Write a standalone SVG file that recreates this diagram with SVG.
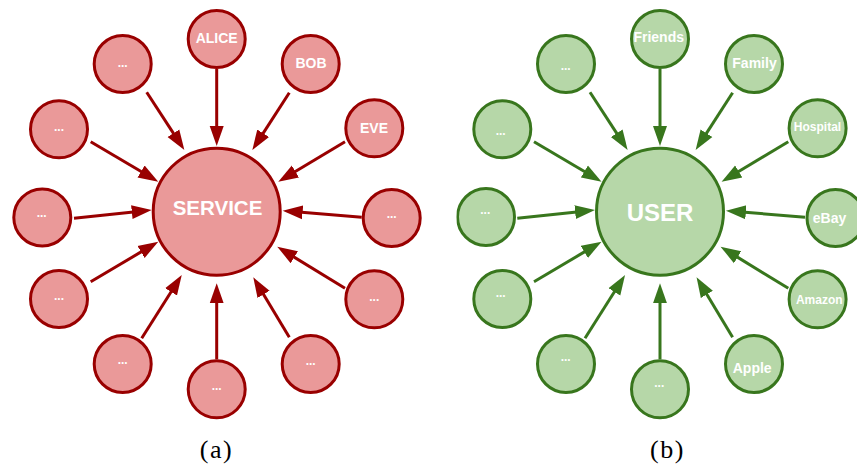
<svg xmlns="http://www.w3.org/2000/svg" width="857" height="464" viewBox="0 0 857 464">
<style>
.r circle{fill:#ea9999;stroke:#990000;stroke-width:3}
.g circle{fill:#b6d7a8;stroke:#38761d;stroke-width:3}
text{font-family:"Liberation Sans",Arial,sans-serif;font-weight:bold;fill:#ffffff;text-anchor:middle}
.s{font-size:14px}
.xs{font-size:12px}
.d{font-size:12px}
.hub-r{font-size:20.5px}
.hub-g{font-size:24px}
.lr line{stroke:#990000;stroke-width:3;marker-end:url(#ar)}
.lg line{stroke:#38761d;stroke-width:3;marker-end:url(#ag)}
.cap{font-family:"Liberation Serif","Times New Roman",serif;font-weight:normal;fill:#000;font-size:26px;letter-spacing:1.5px}
</style>
<defs>
<marker id="ar" markerUnits="userSpaceOnUse" markerWidth="22" markerHeight="16" viewBox="0 -8 22 16" refX="4" refY="0" orient="auto"><path d="M0,-7 L20,0 L0,7 z" fill="#990000"/></marker>
<marker id="ag" markerUnits="userSpaceOnUse" markerWidth="22" markerHeight="16" viewBox="0 -8 22 16" refX="4" refY="0" orient="auto"><path d="M0,-7 L20,0 L0,7 z" fill="#38761d"/></marker>
<clipPath id="clipB"><rect x="456.5" y="0" width="401" height="464"/></clipPath>
</defs>

<g id="connectors">
<g class="lr">
<line x1="216.7" y1="69" x2="216.7" y2="130"/>
<line x1="289.3" y1="92.7" x2="261" y2="136.6"/>
<line x1="345" y1="141.7" x2="292" y2="173.5"/>
<line x1="361.7" y1="217.3" x2="298.6" y2="212"/>
<line x1="345" y1="288.3" x2="290.9" y2="255.1"/>
<line x1="289.3" y1="337.3" x2="261.5" y2="291"/>
<line x1="216.7" y1="359.3" x2="216.7" y2="299.3"/>
<line x1="141.7" y1="338.3" x2="173.2" y2="288.5"/>
<line x1="90.7" y1="281.7" x2="144.5" y2="249.9"/>
<line x1="74" y1="218.3" x2="135.8" y2="211.7"/>
<line x1="90.7" y1="141.7" x2="144.5" y2="173.5"/>
<line x1="146.7" y1="92.3" x2="175.6" y2="136.6"/>
</g>
<g class="lg" transform="translate(443.3,0)">
<line x1="216.7" y1="69" x2="216.7" y2="130"/>
<line x1="289.3" y1="92.7" x2="261" y2="136.6"/>
<line x1="345" y1="141.7" x2="292" y2="173.5"/>
<line x1="361.7" y1="217.3" x2="298.6" y2="212"/>
<line x1="345" y1="288.3" x2="290.9" y2="255.1"/>
<line x1="289.3" y1="337.3" x2="261.5" y2="291"/>
<line x1="216.7" y1="359.3" x2="216.7" y2="299.3"/>
<line x1="141.7" y1="338.3" x2="173.2" y2="288.5"/>
<line x1="90.7" y1="281.7" x2="144.5" y2="249.9"/>
<line x1="74" y1="218.3" x2="135.8" y2="211.7"/>
<line x1="90.7" y1="141.7" x2="144.5" y2="173.5"/>
<line x1="146.7" y1="92.3" x2="175.6" y2="136.6"/>
</g>
</g>

<g id="panel-a" class="r">
<g id="service"><circle cx="216.7" cy="211.7" r="63.5"/><text class="hub-r" x="217.5" y="215">SERVICE</text></g>
<g id="alice"><circle cx="216.7" cy="39" r="28.5"/><text class="s" x="216.7" y="42.5">ALICE</text></g>
<g id="bob"><circle cx="310.7" cy="64" r="28.5"/><text class="s" x="311" y="68">BOB</text></g>
<g id="eve"><circle cx="374.3" cy="128.3" r="28.5"/><text class="s" x="374" y="132.7">EVE</text></g>
<g id="a-r"><circle cx="391.7" cy="218" r="28.5"/><text class="d" x="391.7" y="218">...</text></g>
<g id="a-rl"><circle cx="374.3" cy="299.3" r="28.5"/><text class="d" x="374.3" y="300.5">...</text></g>
<g id="a-lr"><circle cx="310.7" cy="364" r="28.5"/><text class="d" x="310.7" y="364.8">...</text></g>
<g id="a-b"><circle cx="216.7" cy="389.3" r="28.5"/><text class="d" x="216.7" y="389.8">...</text></g>
<g id="a-ll"><circle cx="122.7" cy="364" r="28.5"/><text class="d" x="122.7" y="364">...</text></g>
<g id="a-lwl"><circle cx="59" cy="299" r="28.5"/><text class="d" x="59" y="299.8">...</text></g>
<g id="a-fl"><circle cx="42.3" cy="217.5" r="28.5"/><text class="d" x="41.7" y="217">...</text></g>
<g id="a-l"><circle cx="59" cy="129.3" r="28.5"/><text class="d" x="59" y="130.8">...</text></g>
<g id="a-tl"><circle cx="122.7" cy="64" r="28.5"/><text class="d" x="122.7" y="66.5">...</text></g>
</g>

<g id="panel-b" class="g" clip-path="url(#clipB)">
<g id="user"><circle cx="660" cy="211.7" r="63.5"/><text class="hub-g" x="660" y="220.7">USER</text></g>
<g id="friends"><circle cx="660" cy="39" r="28.5"/><text class="s" x="658.7" y="41.7">Friends</text></g>
<g id="family"><circle cx="754" cy="64" r="28.5"/><text class="s" x="754.5" y="67.7">Family</text></g>
<g id="hospital"><circle cx="817.6" cy="128.3" r="28.5"/><text class="xs" x="817.5" y="130.7">Hospital</text></g>
<g id="ebay"><circle cx="835.5" cy="218" r="28.5"/><text class="s" x="829.5" y="223.3">eBay</text></g>
<g id="amazon"><circle cx="817.6" cy="299.3" r="28.5"/><text class="xs" x="819.3" y="304">Amazon</text></g>
<g id="apple"><circle cx="754" cy="364" r="28.5"/><text class="s" x="752.2" y="372.7">Apple</text></g>
<g id="b-b"><circle cx="660" cy="389.3" r="28.5"/><text class="d" x="659.3" y="386.5">...</text></g>
<g id="b-ll"><circle cx="566" cy="364" r="28.5"/><text class="d" x="565.7" y="361">...</text></g>
<g id="b-lwl"><circle cx="502.3" cy="299" r="28.5"/><text class="d" x="500.7" y="296.5">...</text></g>
<g id="b-fl"><circle cx="486" cy="217" r="28.5"/><text class="d" x="485.3" y="214">...</text></g>
<g id="b-l"><circle cx="502.3" cy="129.3" r="28.5"/><text class="d" x="500.7" y="135">...</text></g>
<g id="b-tl"><circle cx="566" cy="64" r="28.5"/><text class="d" x="565.7" y="69.5">...</text></g>
</g>

<text class="cap" x="216.5" y="458">(a)</text>
<text class="cap" x="667.5" y="458">(b)</text>
</svg>
